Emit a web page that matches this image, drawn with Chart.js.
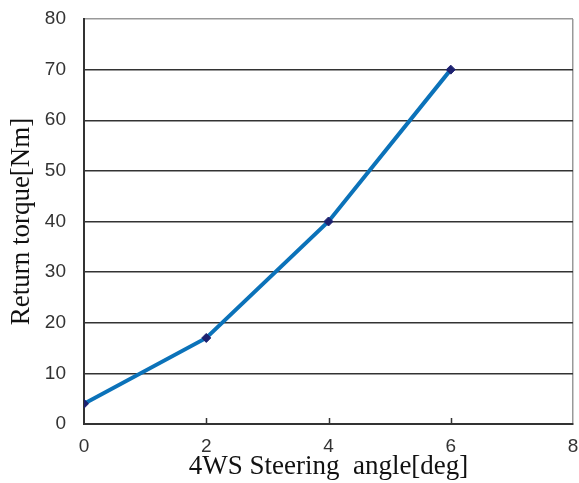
<!DOCTYPE html>
<html>
<head>
<meta charset="utf-8">
<script src="https://cdn.jsdelivr.net/npm/chart.js@4/dist/chart.umd.min.js"></script>
<style>
  html, body { margin: 0; padding: 0; background: #fff; }
  #wrap { width: 579px; height: 483px; }
</style>
</head>
<body>
<div id="wrap"><canvas id="chart"></canvas></div>
<script>
// data
const angles = [0, 2, 4, 6];
const torque = [4, 17, 40, 70];
const xTicks = [0, 2, 4, 6, 8];
const yTicks = [0, 10, 20, 30, 40, 50, 60, 70, 80];

// little tick marks pointing up from the x axis
const innerTicks = {
  id: "innerTicks",
  afterDraw(chart) {
    const ctx = chart.ctx;
    const x = chart.scales.x;
    const y0 = chart.scales.y.getPixelForValue(0);
    ctx.save();
    ctx.strokeStyle = "#333";
    ctx.lineWidth = 1.5;
    xTicks.slice(1, -1).forEach(v => {
      const px = Math.round(x.getPixelForValue(v)) + 0.5;
      ctx.beginPath();
      ctx.moveTo(px, y0);
      ctx.lineTo(px, y0 - 6);
      ctx.stroke();
    });
    ctx.restore();
  }
};

new Chart(document.getElementById("chart"), {
  type: "line",
  data: {
    datasets: [{
      data: angles.map((a, i) => ({ x: a, y: torque[i] })),
      borderColor: "#0b72b9",
      borderWidth: 4,
      tension: 0,
      pointStyle: "rectRot",
      pointRadius: 4.5,
      pointBackgroundColor: "#1d2170",
      pointBorderColor: "#1d2170",
      pointBorderWidth: 1
    }]
  },
  options: {
    responsive: true,
    maintainAspectRatio: false,
    animation: false,
    layout: { padding: { top: 19, right: 6, left: 0, bottom: 0 } },
    plugins: { legend: { display: false }, tooltip: { enabled: false } },
    scales: {
      x: {
        type: "linear",
        min: 0,
        max: 8,
        afterBuildTicks: s => { s.ticks = xTicks.map(v => ({ value: v })); },
        afterFit: s => { s.height = 59; s.paddingLeft = 0; s.paddingRight = 0; },
        grid: {
          drawTicks: false,
          lineWidth: 1.5,
          color: c => c.tick && c.tick.value === 8 ? "#999" : "rgba(0,0,0,0)"
        },
        border: { color: "#333", width: 2 },
        ticks: {
          padding: 11,
          color: "#333",
          font: { family: "Liberation Sans", size: 19 }
        },
        title: {
          display: true,
          text: "4WS Steering  angle[deg]",
          color: "#111",
          padding: { top: 0, bottom: 0 },
          font: { family: "Liberation Serif", size: 27 }
        }
      },
      y: {
        min: 0,
        max: 80,
        afterBuildTicks: s => { s.ticks = yTicks.map(v => ({ value: v })); },
        afterFit: s => { s.width = 84; s.paddingTop = 0; s.paddingBottom = 0; },
        grid: {
          drawTicks: false,
          lineWidth: 1.5,
          color: c => c.tick && c.tick.value === 80 ? "#999" : "#333"
        },
        border: { color: "#333", width: 2 },
        ticks: {
          padding: 18,
          color: "#333",
          font: { family: "Liberation Sans", size: 19 }
        },
        title: {
          display: true,
          text: "Return torque[Nm]",
          color: "#111",
          padding: { top: 6, bottom: 0 },
          font: { family: "Liberation Serif", size: 27 }
        }
      }
    }
  },
  plugins: [innerTicks]
});
</script>
</body>
</html>
